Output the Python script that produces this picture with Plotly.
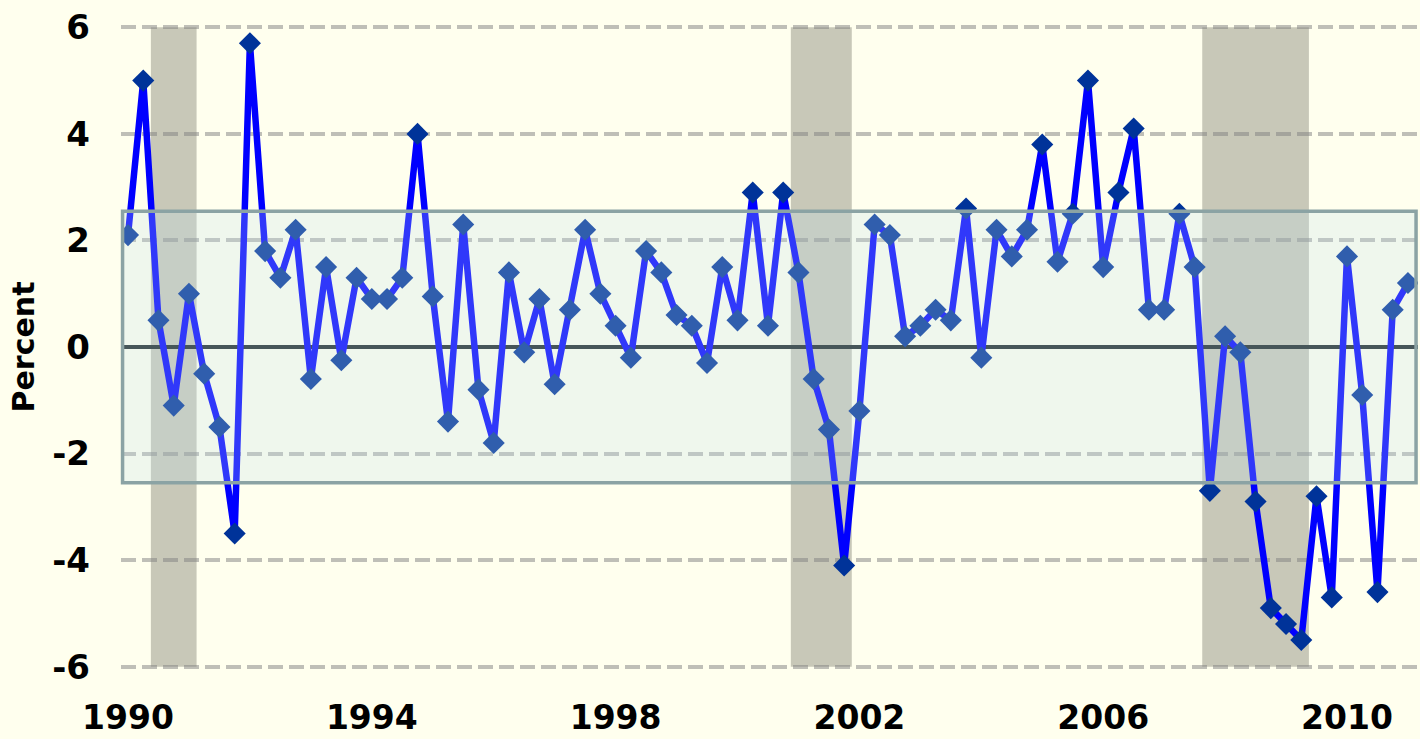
import plotly.graph_objects as go
import pandas as pd

# Quarterly periods 1990Q1 .. 2011Q1
quarters = [str(p) for p in pd.period_range("1990Q1", "2011Q1", freq="Q")]

values = [
    2.1, 5.0, 0.5, -1.1,
    1.0, -0.5, -1.5, -3.5,
    5.7, 1.8, 1.3, 2.2,
    -0.6, 1.5, -0.25, 1.3,
    0.9, 0.9, 1.3, 4.0,
    0.95, -1.4, 2.3, -0.8,
    -1.8, 1.4, -0.1, 0.9,
    -0.7, 0.7, 2.2, 1.0,
    0.4, -0.2, 1.8, 1.4,
    0.6, 0.4, -0.3, 1.5,
    0.5, 2.9, 0.4, 2.9,
    1.4, -0.6, -1.55, -4.1,
    -1.2, 2.3, 2.1, 0.2,
    0.4, 0.7, 0.5, 2.6,
    -0.2, 2.2, 1.7, 2.2,
    3.8, 1.6, 2.5, 5.0,
    1.5, 2.9, 4.1, 0.7,
    0.7, 2.5, 1.5, -2.7,
    0.2, -0.1, -2.9, -4.9,
    -5.2, -5.5, -2.8, -4.7,
    1.7, -0.9, -4.6, 0.7,
    1.2,
]

recession_start = ["1990Q3", "2001Q1", "2007Q4"]
recession_end = ["1991Q1", "2001Q4", "2009Q2"]

band_low, band_high = -2.55, 2.55

y_ticks = [-6, -4, -2, 0, 2, 4, 6]
x_ticks = [1990, 1994, 1998, 2002, 2006, 2010]
x_tick_labels = ["1990", "1994", "1998", "2002", "2006", "2010"]


def qnum(q):
    year, qq = q.split("Q")
    return int(year) + (int(qq) - 1) / 4.0


x = [qnum(q) for q in quarters]

fig = go.Figure()
fig.add_trace(go.Scatter(
    x=x, y=values, mode="lines+markers",
    line=dict(color="#0000FF", width=6.5),
    marker=dict(symbol="diamond", size=17, color="#003399"),
    showlegend=False,
))

shapes = []
for s, e in zip(recession_start, recession_end):
    shapes.append(dict(
        type="rect", xref="x", yref="y",
        x0=qnum(s) - 0.125, x1=qnum(e) + 0.125, y0=-6, y1=6,
        fillcolor="#C8C8B8", line=dict(width=0), layer="below",
    ))
shapes.append(dict(
    type="rect", xref="paper", yref="y",
    x0=0.0012, x1=0.9985, y0=band_low, y1=band_high,
    fillcolor="rgba(190,225,235,0.25)",
    line=dict(color="#8BA3A4", width=3.5), layer="above",
))

font_family = "DejaVu Sans"
fig.update_layout(
    width=1420, height=739,
    paper_bgcolor="#FFFFEE", plot_bgcolor="#FFFFEE",
    margin=dict(l=121, r=2, t=6, b=51),
    shapes=shapes,
    font=dict(family=font_family, color="#000000"),
    xaxis=dict(
        range=[1989.885, 2011.165],
        tickvals=x_ticks, ticktext=x_tick_labels,
        showgrid=False, zeroline=False, showline=False, ticks="",
        tickfont=dict(family=font_family, size=33, weight="bold", color="#000"),
        ticklabelstandoff=7, automargin=False,
    ),
    yaxis=dict(
        range=[-6.4, 6.4],
        tickvals=y_ticks, ticktext=[str(v) for v in y_ticks],
        showgrid=True, gridcolor="rgba(128,128,128,0.5)", gridwidth=4,
        griddash="15px,6px",
        zeroline=True, zerolinecolor="#1E2828", zerolinewidth=4,
        showline=False, ticks="", automargin=False,
        tickfont=dict(family=font_family, size=34, weight="bold", color="#000"),
        ticklabelstandoff=30,
        title=dict(text="Percent", standoff=8,
                   font=dict(family=font_family, size=30, weight="bold", color="#000")),
    ),
)

fig.write_html(
    "out.html",
    config={"displayModeBar": False},
    post_script="document.body.style.margin='0px';document.body.style.overflow='hidden';",
)
